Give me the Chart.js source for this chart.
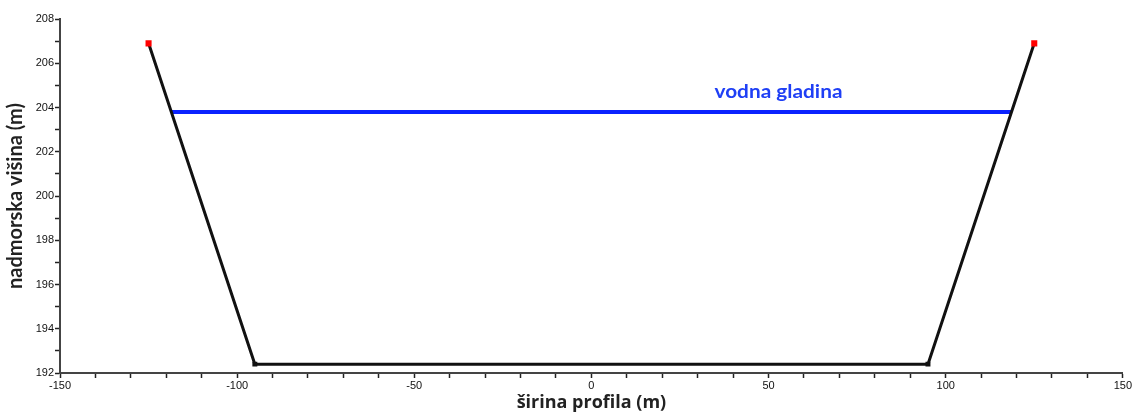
<!DOCTYPE html>
<html>
<head>
<meta charset="utf-8">
<script src="https://cdn.jsdelivr.net/npm/chart.js@4"></script>
<style>
  html, body { margin: 0; padding: 0; background: #fff; }
  #wrap { width: 1133px; height: 414px; position: relative; }
</style>
</head>
<body>
<div id="wrap"><canvas id="profileChart" width="1133" height="414"></canvas></div>
<script>
// Cross-section of the channel (x = width, y = elevation)
const bankX = [-125, -95, 95, 125];
const bankY = [206.9, 192.4, 192.4, 206.9];
const waterX = [-118.6, 118.6];
const waterY = [203.8, 203.8];
const waterLabel = 'vodna gladina';
const waterLabelPos = { x: 52.8, y: 204.7 };
const xTitle = 'širina profila (m)';
const yTitle = 'nadmorska višina (m)';

const toPoints = (xs, ys) => xs.map((x, i) => ({ x: x, y: ys[i] }));

// Draws the water level text (slightly widened like the original)
const labelPlugin = {
    id: 'waterLabel',
    afterDatasetsDraw(chart) {
        const ctx = chart.ctx;
        const px = chart.scales.x.getPixelForValue(waterLabelPos.x);
        const py = chart.scales.y.getPixelForValue(waterLabelPos.y);
        ctx.save();
        ctx.font = 'bold 18px Lato, "Open Sans", sans-serif';
        ctx.fillStyle = '#1f3ff5';
        ctx.textAlign = 'center';
        ctx.textBaseline = 'middle';
        ctx.translate(px, py);
        ctx.scale(128 / ctx.measureText(waterLabel).width, 1);
        ctx.fillText(waterLabel, 0, 0);
        ctx.restore();
    }
};

const tickFont = { family: '"Liberation Sans", Arial, sans-serif', size: 11 };

new Chart(document.getElementById('profileChart'), {
    type: 'scatter',
    data: {
        datasets: [
            {
                data: toPoints(bankX, bankY),
                showLine: true,
                borderColor: '#111',
                borderWidth: 3,
                pointStyle: 'rect',
                pointRadius: [4.3, 3.5, 3.5, 4.3],
                pointBackgroundColor: ['#ff0000', '#111', '#111', '#ff0000'],
                pointBorderWidth: 0
            },
            {
                data: toPoints(waterX, waterY),
                showLine: true,
                borderColor: '#0a22ff',
                borderWidth: 4,
                pointRadius: 0
            }
        ]
    },
    options: {
        responsive: false,
        animation: false,
        layout: { padding: { top: 19, right: 8, left: 0, bottom: 0 } },
        plugins: { legend: { display: false }, tooltip: { enabled: false } },
        scales: {
            x: {
                type: 'linear',
                min: -150,
                max: 150,
                afterFit: s => { s.height = 41; },
                border: { color: '#444', width: 2 },
                grid: { drawOnChartArea: false, tickLength: 5, color: '#222', tickWidth: 1.5 },
                ticks: {
                    stepSize: 10,
                    autoSkip: false,
                    maxRotation: 0,
                    padding: 1,
                    font: tickFont,
                    color: '#111',
                    callback: v => (v % 50 === 0 ? String(v) : '')
                },
                title: {
                    display: true, text: xTitle, color: '#222',
                    font: { family: '"Open Sans", Lato, sans-serif', size: 18, weight: 'bold' },
                    padding: { top: 0, bottom: 0 }
                }
            },
            y: {
                type: 'linear',
                min: 192,
                max: 208,
                afterFit: s => { s.width = 60; },
                border: { color: '#444', width: 2 },
                grid: { drawOnChartArea: false, tickLength: 5, color: '#222', tickWidth: 1.5 },
                ticks: {
                    stepSize: 1,
                    autoSkip: false,
                    padding: 1,
                    font: tickFont,
                    color: '#111',
                    callback: v => (v % 2 === 0 ? String(v) : '')
                },
                title: {
                    display: true, text: yTitle, color: '#222',
                    font: { family: 'Lato, "Open Sans", sans-serif', size: 20, weight: 'bold' },
                    padding: { top: 4, bottom: 0 }
                }
            }
        }
    },
    plugins: [labelPlugin]
});
</script>
</body>
</html>
